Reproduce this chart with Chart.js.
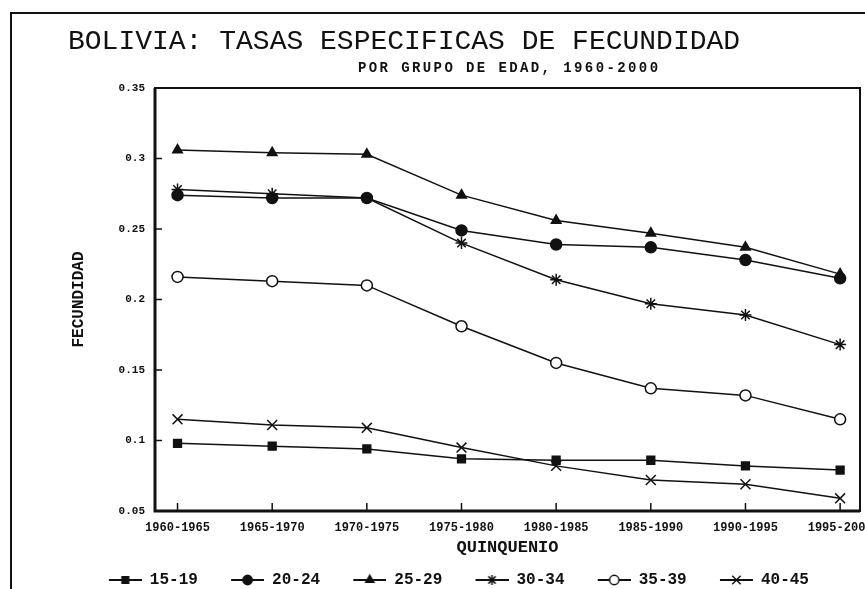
<!DOCTYPE html>
<html>
<head>
<meta charset="utf-8">
<title>Bolivia: tasas especificas de fecundidad</title>
<script src="https://cdn.jsdelivr.net/npm/chart.js@4.4.0/dist/chart.umd.min.js"></script>
<style>
  html, body { margin: 0; padding: 0; background: #fff; }
  body { width: 865px; height: 589px; overflow: hidden; position: relative; color: #111;
         font-family: 'Liberation Mono', 'DejaVu Sans Mono', monospace; }
  .marco { position: absolute; left: 10px; top: 12px; width: 900px; height: 700px;
           border-left: 2px solid #111; border-top: 2px solid #111; }
  .titulo { position: absolute; left: 68px; top: 28px; font-size: 28px; line-height: 28px; white-space: nowrap; z-index: 2; }
  .subtitulo { position: absolute; left: 358px; top: 61px; font-size: 14px; line-height: 14px; font-weight: bold;
               letter-spacing: 2.4px; white-space: nowrap; z-index: 2; }
  #grafico { position: absolute; left: 0; top: 0; z-index: 1; }
</style>
</head>
<body>
<div class="marco"></div>
<div class="titulo">BOLIVIA: TASAS ESPECIFICAS DE FECUNDIDAD</div>
<div class="subtitulo">POR GRUPO DE EDAD, 1960-2000</div>
<canvas id="grafico" width="900" height="598"></canvas>

<script>
// Datos
const quinquenios = ['1960-1965', '1965-1970', '1970-1975', '1975-1980', '1980-1985', '1985-1990', '1990-1995', '1995-2000'];
const gruposEdad = ['15-19', '20-24', '25-29', '30-34', '35-39', '40-45'];
const yTickLabels = ['0.05', '0.1', '0.15', '0.2', '0.25', '0.3', '0.35'];

const tasa15_19 = [0.098, 0.096, 0.094, 0.087, 0.086, 0.086, 0.082, 0.079];
const tasa20_24 = [0.274, 0.272, 0.272, 0.249, 0.239, 0.237, 0.228, 0.215];
const tasa25_29 = [0.306, 0.304, 0.303, 0.274, 0.256, 0.247, 0.237, 0.218];
const tasa30_34 = [0.278, 0.275, 0.272, 0.240, 0.214, 0.197, 0.189, 0.168];
const tasa35_39 = [0.216, 0.213, 0.210, 0.181, 0.155, 0.137, 0.132, 0.115];
const tasa40_45 = [0.115, 0.111, 0.109, 0.095, 0.082, 0.072, 0.069, 0.059];

const NEGRO = '#111';
const FUENTE = "'Liberation Mono', 'DejaVu Sans Mono', monospace";

// estilo de cada serie
const estilos = [
    { data: tasa15_19, pointStyle: 'rect', radius: 5.5, fill: NEGRO },
    { data: tasa20_24, pointStyle: 'circle', radius: 5.5, fill: NEGRO },
    { data: tasa25_29, pointStyle: 'triangle', radius: 5.5, fill: NEGRO },
    { data: tasa30_34, pointStyle: 'star', radius: 6, fill: NEGRO },
    { data: tasa35_39, pointStyle: 'circle', radius: 5.5, fill: '#fff' },
    { data: tasa40_45, pointStyle: 'crossRot', radius: 7, fill: NEGRO }
];

// icono de la leyenda: linea con el marcador en medio
function iconoLeyenda(est) {
    const c = document.createElement('canvas');
    c.width = 41;
    c.height = 16;
    const ctx = c.getContext('2d');
    ctx.strokeStyle = NEGRO;
    ctx.lineWidth = 2;
    ctx.beginPath();
    ctx.moveTo(8, 8);
    ctx.lineTo(41, 8);
    ctx.stroke();
    ctx.fillStyle = est.fill;
    ctx.lineWidth = 1.5;
    Chart.helpers.drawPoint(ctx, {
        pointStyle: est.pointStyle,
        radius: est.radius * 0.85,
        rotation: 0,
        borderWidth: 1.5
    }, 24.5, 8);
    return c;
}

// marco del area y marcas interiores de los ejes
const marcasInternas = {
    id: 'marcasInternas',
    beforeDatasetsDraw(chart) {
        const { ctx, chartArea: a, scales: { x, y } } = chart;
        ctx.save();
        ctx.strokeStyle = NEGRO;
        ctx.lineWidth = 2;
        ctx.strokeRect(a.left, a.top, a.right - a.left, a.bottom - a.top);
        ctx.lineWidth = 3;
        ctx.beginPath();
        ctx.moveTo(a.left, a.top);
        ctx.lineTo(a.left, a.bottom);
        ctx.lineTo(a.right, a.bottom);
        ctx.stroke();
        ctx.lineWidth = 1.5;
        ctx.beginPath();
        y.ticks.forEach(t => {
            if (t.value > y.min && t.value < y.max) {
                const py = y.getPixelForValue(t.value);
                ctx.moveTo(a.left, py);
                ctx.lineTo(a.left + 7, py);
            }
        });
        x.ticks.forEach(t => {
            const px = x.getPixelForValue(t.value);
            ctx.moveTo(px, a.bottom);
            ctx.lineTo(px, a.bottom - 8);
        });
        ctx.stroke();
        ctx.restore();
    }
};

const ctx = document.getElementById('grafico').getContext('2d');
new Chart(ctx, {
    type: 'line',
    data: {
        labels: quinquenios.map((_, i) => i),
        datasets: estilos.map((est, i) => ({
            label: gruposEdad[i] + '  ',
            data: est.data,
            borderColor: NEGRO,
            borderWidth: 1.5,
            pointStyle: est.pointStyle,
            pointRadius: est.radius,
            pointBorderColor: NEGRO,
            pointBorderWidth: 1.5,
            pointBackgroundColor: est.fill,
            tension: 0,
            fill: false
        }))
    },
    options: {
        responsive: false,
        devicePixelRatio: 1,
        animation: false,
        layout: { padding: { top: 88, left: 69, right: 40, bottom: 0 } },
        plugins: {
            tooltip: { enabled: false },
            legend: {
                position: 'bottom',
                labels: {
                    usePointStyle: true,
                    pointStyleWidth: 41,
                    padding: 6,
                    color: NEGRO,
                    font: { family: FUENTE, size: 16, weight: 'bold' },
                    generateLabels: chart => chart.data.datasets.map((ds, i) => ({
                        text: ds.label,
                        pointStyle: iconoLeyenda(estilos[i]),
                        fontColor: NEGRO,
                        lineWidth: 0,
                        datasetIndex: i,
                        hidden: false
                    }))
                }
            }
        },
        scales: {
            x: {
                type: 'linear',
                min: -0.238,
                max: 7.21,
                grid: { display: false, drawTicks: false },
                border: { display: false },
                afterBuildTicks: s => { s.ticks = quinquenios.map((_, i) => ({ value: i })); },
                afterFit: s => { s.height = 55; },
                ticks: {
                    autoSkip: false,
                    maxRotation: 0,
                    padding: 10,
                    color: NEGRO,
                    font: { family: FUENTE, size: 12, weight: 'bold' },
                    callback: v => quinquenios[v]
                },
                title: {
                    display: true,
                    text: 'QUINQUENIO',
                    color: NEGRO,
                    padding: { top: 0, bottom: 8 },
                    font: { family: FUENTE, size: 17, weight: 'bold' }
                }
            },
            y: {
                min: 0.05,
                max: 0.35,
                grid: { display: false, drawTicks: false },
                border: { display: false },
                afterBuildTicks: s => { s.ticks = yTickLabels.map(l => ({ value: parseFloat(l) })); },
                afterFit: s => { s.width = 86; },
                ticks: {
                    padding: 10,
                    color: NEGRO,
                    font: { family: FUENTE, size: 11, weight: 'bold' },
                    callback: (v, i) => yTickLabels[i]
                },
                title: {
                    display: true,
                    text: 'FECUNDIDAD',
                    color: NEGRO,
                    padding: { top: 0, bottom: 0 },
                    font: { family: FUENTE, size: 16, weight: 'bold' }
                }
            }
        }
    },
    plugins: [marcasInternas]
});
</script>
</body>
</html>
